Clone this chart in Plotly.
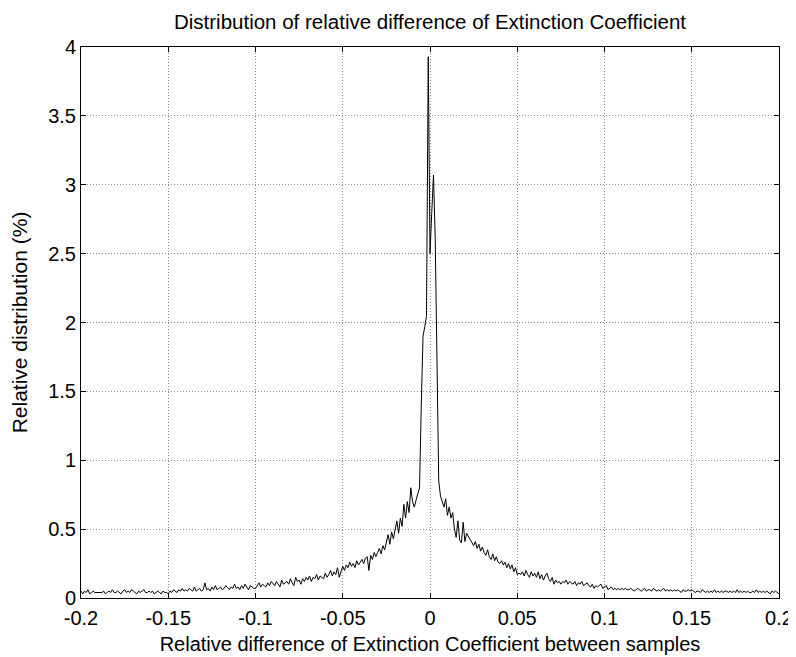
import plotly.graph_objects as go

# Bin centres of the relative difference (step 0.001 from -0.2 to 0.2)
bin_centres = [i / 1000 for i in range(-200, 201)]

# Relative distribution (%), left tail -> peak -> right tail
left_tail = [
    0.05, 0.03, 0.05, 0.04, 0.06, 0.03, 0.04, 0.05, 0.04, 0.04,
    0.04, 0.04, 0.04, 0.05, 0.03, 0.04, 0.05, 0.04, 0.06, 0.04,
    0.04, 0.05, 0.04, 0.03, 0.05, 0.06, 0.04, 0.05, 0.04, 0.06,
    0.05, 0.04, 0.03, 0.05, 0.04, 0.05, 0.06, 0.04, 0.04, 0.05,
    0.04, 0.05, 0.03, 0.04, 0.05, 0.04, 0.03, 0.05, 0.04, 0.04,
    0.03, 0.05, 0.04, 0.06, 0.05, 0.04, 0.06, 0.05, 0.07, 0.05,
    0.06, 0.05, 0.07, 0.06, 0.05, 0.08, 0.05, 0.06, 0.07, 0.05,
    0.06, 0.11, 0.06, 0.07, 0.05, 0.08, 0.06, 0.09, 0.06, 0.07,
    0.08, 0.06, 0.07, 0.09, 0.07, 0.06, 0.08, 0.07, 0.10, 0.07,
    0.08, 0.06, 0.09, 0.07, 0.10, 0.08, 0.06, 0.09, 0.08, 0.07,
    0.07, 0.09, 0.11, 0.08, 0.10, 0.09, 0.08, 0.11, 0.09, 0.12,
    0.10, 0.09, 0.12, 0.10, 0.08, 0.13, 0.10, 0.11, 0.12, 0.10,
    0.14, 0.11, 0.09, 0.15, 0.12, 0.13, 0.10, 0.14, 0.12, 0.15,
    0.13, 0.16, 0.12, 0.15, 0.14, 0.17, 0.13, 0.16, 0.15, 0.14,
    0.18, 0.15, 0.17, 0.20, 0.16, 0.19, 0.17, 0.22, 0.15, 0.19,
    0.23, 0.20, 0.24, 0.22, 0.26, 0.23, 0.25, 0.22, 0.27, 0.24,
    0.26, 0.28, 0.25, 0.29, 0.30, 0.20, 0.31, 0.28, 0.33, 0.30,
    0.33, 0.36, 0.32, 0.38, 0.35, 0.41, 0.46, 0.39, 0.48, 0.43,
    0.50, 0.56, 0.47, 0.58, 0.52, 0.68, 0.58, 0.70, 0.62, 0.80,
    0.70, 0.66, 0.71, 0.75, 0.80, 1.40, 1.90, 1.97, 2.05, 3.93,
]
centre_value = [2.50]
right_tail = [
    2.80, 3.07, 2.60, 1.50, 0.85, 0.74, 0.70, 0.66, 0.72, 0.60,
    0.66, 0.58, 0.62, 0.50, 0.44, 0.56, 0.42, 0.40, 0.55, 0.41,
    0.47, 0.45, 0.42, 0.40, 0.38, 0.41, 0.36, 0.39, 0.34, 0.37,
    0.33, 0.31, 0.35, 0.30, 0.28, 0.32, 0.27, 0.30, 0.26, 0.25,
    0.27, 0.24, 0.26, 0.22, 0.25, 0.21, 0.24, 0.19, 0.22, 0.17,
    0.18, 0.17, 0.19, 0.16, 0.20, 0.17, 0.15, 0.19, 0.16, 0.18,
    0.15, 0.19, 0.14, 0.17, 0.13, 0.16, 0.18, 0.14, 0.12, 0.15,
    0.10, 0.13, 0.11, 0.12, 0.10, 0.12, 0.11, 0.13, 0.10, 0.12,
    0.11, 0.10, 0.12, 0.09, 0.11, 0.10, 0.12, 0.09, 0.10, 0.11,
    0.09, 0.08, 0.10, 0.07, 0.09, 0.08, 0.09, 0.10, 0.07, 0.08,
    0.09, 0.06, 0.07, 0.08, 0.06, 0.07, 0.06, 0.07, 0.06, 0.07,
    0.06, 0.07, 0.06, 0.06, 0.07, 0.06, 0.05, 0.06, 0.07, 0.06,
    0.05, 0.06, 0.07, 0.05, 0.06, 0.06, 0.05, 0.07, 0.06, 0.05,
    0.06, 0.05, 0.06, 0.07, 0.05, 0.06, 0.05, 0.06, 0.05, 0.06,
    0.05, 0.06, 0.05, 0.04, 0.06, 0.05, 0.05, 0.06, 0.05, 0.06,
    0.05, 0.04, 0.05, 0.05, 0.04, 0.06, 0.05, 0.04, 0.05, 0.04,
    0.05, 0.04, 0.06, 0.04, 0.05, 0.04, 0.05, 0.04, 0.05, 0.05,
    0.04, 0.05, 0.04, 0.05, 0.04, 0.06, 0.04, 0.05, 0.04, 0.05,
    0.04, 0.05, 0.04, 0.04, 0.05, 0.04, 0.06, 0.04, 0.05, 0.04,
    0.05, 0.04, 0.05, 0.04, 0.03, 0.05, 0.04, 0.05, 0.04, 0.03,
]
distribution = left_tail + centre_value + right_tail

x_tick_vals = [-0.2, -0.15, -0.1, -0.05, 0, 0.05, 0.1, 0.15, 0.2]
x_tick_text = ["-0.2", "-0.15", "-0.1", "-0.05", "0", "0.05", "0.1", "0.15", "0.2"]
y_tick_vals = [0, 0.5, 1, 1.5, 2, 2.5, 3, 3.5, 4]
y_tick_text = ["0", "0.5", "1", "1.5", "2", "2.5", "3", "3.5", "4"]

FONT = "Liberation Sans, Arial, sans-serif"

fig = go.Figure()
fig.add_trace(go.Scatter(
    x=bin_centres, y=distribution, mode="lines",
    line=dict(color="black", width=1), showlegend=False,
))

axis_common = dict(
    showline=True, linecolor="black", linewidth=1, mirror="ticks",
    ticks="inside", ticklen=5, tickcolor="black", tickwidth=1,
    showgrid=True, gridcolor="#8c8c8c", griddash="1px,2px", gridwidth=1,
    zeroline=False, automargin=False,
    tickfont=dict(family=FONT, size=20, color="black"),
)

# The page body has an 8px margin, so the figure is sized/offset to compensate.
fig.update_layout(
    width=788, height=649,
    margin=dict(l=73, r=17, t=39, b=59),
    paper_bgcolor="white", plot_bgcolor="white",
    title=dict(text="Distribution of relative difference of Extinction Coefficient",
               x=422 / 788, xanchor="center", y=1 - 14 / 649, yanchor="middle",
               font=dict(family=FONT, size=20.5, color="black")),
    xaxis=dict(range=[-0.2, 0.2], tickvals=x_tick_vals, ticktext=x_tick_text,
               ticklabelstandoff=2,
               title=dict(text="Relative difference of Extinction Coefficient between samples",
                          font=dict(family=FONT, size=20, color="black"), standoff=8),
               **axis_common),
    yaxis=dict(range=[0, 4], tickvals=y_tick_vals, ticktext=y_tick_text,
               ticklabelstandoff=0,
               title=dict(text="Relative distribution (%)",
                          font=dict(family=FONT, size=21, color="black"), standoff=15),
               **axis_common),
)

fig.write_html("out.html")
